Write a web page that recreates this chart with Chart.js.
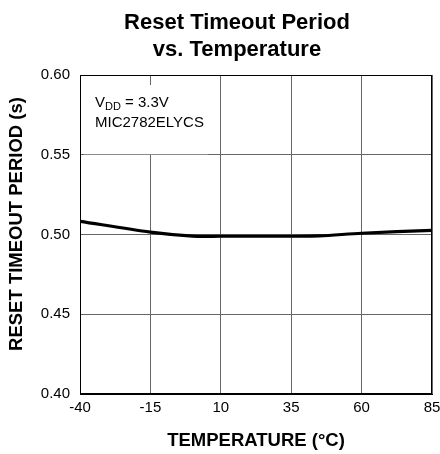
<!DOCTYPE html>
<html>
<head>
<meta charset="utf-8">
<script src="https://cdn.jsdelivr.net/npm/chart.js@4/dist/chart.umd.min.js"></script>
<style>
  html, body { margin: 0; padding: 0; background: #fff; }
  #wrap { width: 440px; height: 454px; }
</style>
</head>
<body>
<div id="wrap"><canvas id="resetChart" width="440" height="454"></canvas></div>
<script>
// Values
let temperature = [-40, -15, 0, 10, 25, 35, 45, 60, 85]; // degC
let resetPeriod = [0.5083, 0.5015, 0.4990, 0.4989, 0.4989, 0.4989, 0.4991, 0.5008, 0.5026]; // s
let xTicks = [-40, -15, 10, 35, 60, 85];
let yTicks = [0.40, 0.45, 0.50, 0.55, 0.60];
let titleLines = ['Reset Timeout Period', 'vs. Temperature'];
let noteLines = ['MIC2782ELYCS'];

const FONT = '"Liberation Sans", Arial, sans-serif';

// title, y title, condition note and black frame drawn by hand
const decorations = {
    id: 'decorations',
    beforeDatasetsDraw(chart) {
        const ctx = chart.ctx;
        const area = chart.chartArea;
        ctx.save();
        // white patch behind the note, hides the grid like the original
        ctx.fillStyle = '#fff';
        ctx.fillRect(area.left + 4, area.top + 10, 124, area.height / 4 - 10.5);

        ctx.fillStyle = '#000';
        ctx.textBaseline = 'alphabetic';
        ctx.textAlign = 'left';
        let x = area.left + 15;
        ctx.font = '15px ' + FONT;
        ctx.fillText('V', x, 107);
        x += ctx.measureText('V').width;
        ctx.font = '11px ' + FONT;
        ctx.fillText('DD', x, 110);
        x += ctx.measureText('DD').width;
        ctx.font = '15px ' + FONT;
        ctx.fillText(' = 3.3V', x, 107);
        ctx.fillText(noteLines[0], area.left + 15, 127);
        ctx.restore();
    },
    afterDraw(chart) {
        const ctx = chart.ctx;
        const area = chart.chartArea;
        ctx.save();
        ctx.strokeStyle = '#000';
        ctx.lineWidth = 1;
        ctx.strokeRect(area.left + 0.5, area.top + 0.5, area.width - 1, area.height - 1);

        ctx.fillStyle = '#000';
        ctx.textAlign = 'center';
        ctx.textBaseline = 'alphabetic';
        ctx.font = 'bold 22px ' + FONT;
        ctx.fillText(titleLines[0], 237, 29);
        ctx.fillText(titleLines[1], 237, 56);

        ctx.translate(17, 224);
        ctx.rotate(-Math.PI / 2);
        ctx.textBaseline = 'middle';
        ctx.font = 'bold 18.5px ' + FONT;
        ctx.fillText('RESET TIMEOUT PERIOD (s)', 0, 0);
        ctx.restore();
    }
};

const ctx = document.getElementById('resetChart').getContext('2d');
new Chart(ctx, {
    type: 'line',
    data: {
        datasets: [{
            label: 'Reset Timeout Period',
            data: temperature.map((t, i) => ({ x: t, y: resetPeriod[i] })),
            borderColor: '#000',
            borderWidth: 3.2,
            pointRadius: 0,
            tension: 0.3,
            fill: false
        }]
    },
    options: {
        responsive: false,
        animation: false,
        layout: { padding: { top: 75, left: 0, right: 8, bottom: 0 } },
        plugins: {
            legend: { display: false },
            title: { display: false },
            tooltip: { enabled: false }
        },
        scales: {
            x: {
                type: 'linear',
                min: -40,
                max: 85,
                afterBuildTicks: (scale) => { scale.ticks = xTicks.map(v => ({ value: v })); },
                afterFit: (scale) => {
                    scale.height = 60;
                    scale.paddingLeft = 0;
                    scale.paddingRight = 0;
                },
                ticks: {
                    color: '#000',
                    font: { family: FONT, size: 15 },
                    padding: 5,
                    maxRotation: 0
                },
                grid: { color: '#666', drawTicks: false },
                border: { color: '#000' },
                title: {
                    display: true,
                    text: 'TEMPERATURE (°C)',
                    color: '#000',
                    font: { family: FONT, size: 18.5, weight: 'bold' },
                    padding: { top: 0, bottom: 2 }
                }
            },
            y: {
                min: 0.40,
                max: 0.60,
                afterBuildTicks: (scale) => { scale.ticks = yTicks.map(v => ({ value: v })); },
                afterFit: (scale) => { scale.width = 80; },
                ticks: {
                    color: '#000',
                    font: { family: FONT, size: 15 },
                    padding: 10,
                    callback: (v) => Number(v).toFixed(2)
                },
                grid: { color: '#666', drawTicks: false },
                border: { color: '#000' }
            }
        }
    },
    plugins: [decorations]
});
</script>
</body>
</html>
